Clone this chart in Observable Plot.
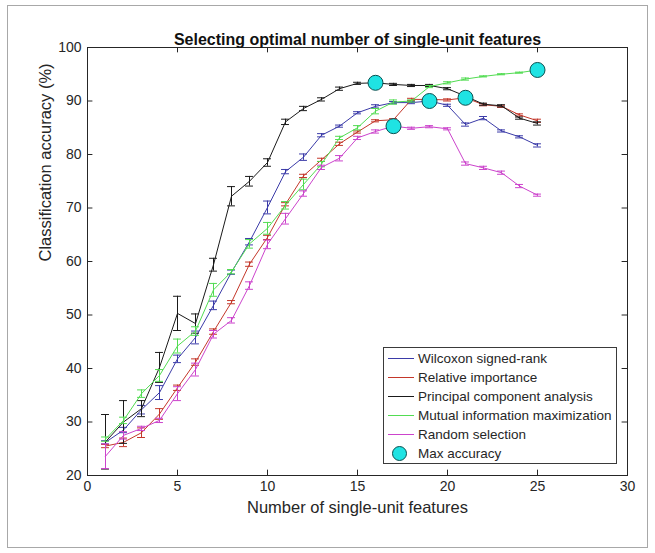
<!DOCTYPE html>
<html>
<head>
<meta charset="utf-8">
<script src="https://cdn.jsdelivr.net/npm/d3@7"></script>
<script src="https://cdn.jsdelivr.net/npm/@observablehq/plot@0.6"></script>
<style>
  body { margin: 0; background: #fff; font-family: "Liberation Sans", Arial, sans-serif; }
  #fig { position: relative; width: 655px; height: 553px; background: #fff; }
  #frame { position: absolute; left: 7px; top: 5px; width: 641px; height: 543px; border: 1px solid #a8a8a8; box-sizing: border-box; pointer-events: none; }
  #legend { position: absolute; left: 383px; top: 347px; width: 234px; height: 117px; background: #fff; border: 1px solid #3a3a3a; box-sizing: border-box; font-size: 13.5px; color: #262626; }
  .row { position: absolute; left: 0; height: 19px; line-height: 19px; white-space: nowrap; }
  .sw { position: absolute; left: 4px; top: 9px; width: 26px; height: 1px; }
  .dotsw { position: absolute; left: 8px; top: 2px; width: 15px; height: 15px; border-radius: 50%; background: #1fe3e3; border: 1px solid #0b4f4f; box-sizing: border-box; }
  .lbl { position: absolute; left: 34px; top: 0; }
</style>
</head>
<body>
<div id="fig"><div id="chart"></div><div id="legend"></div><div id="frame"></div></div>
<script>
// ---- data ----
const features = [1,2,3,4,5,6,7,8,9,10,11,12,13,14,15,16,17,18,19,20,21,22,23,24,25];

const seriesNames = ["Wilcoxon signed-rank", "Relative importance", "Principal component analysis", "Mutual information maximization", "Random selection"];
const seriesColors = ["#3b3ba8", "#c4372a", "#1a1a1a", "#52dc52", "#cc44cc"];

const wilcoxon    = [26.2,28.5,32.3,35.5,41.8,45.8,51.8,58.0,63.7,70.1,76.8,79.5,83.6,85.3,87.8,89.0,89.7,89.7,90.0,89.2,85.6,86.8,84.4,83.3,81.7];
const wilcoxonErr = [0.3,0.5,0.8,1.3,0.7,1.2,0.8,0.4,0.6,1.2,0.4,0.6,0.3,0.2,0.2,0.3,0.2,0.2,0.2,0.2,0.3,0.3,0.2,0.2,0.3];

const relImp    = [25.5,26.2,28.0,31.5,36.4,41.2,46.9,52.4,59.5,64.5,70.7,76.0,79.0,82.0,84.2,86.3,86.5,90.3,90.3,90.2,90.6,89.3,89.0,87.4,86.3];
const relImpErr = [0.3,0.8,0.9,1.0,0.5,0.6,0.5,0.3,0.4,0.4,0.3,0.3,0.3,0.3,0.2,0.2,0.2,0.2,0.2,0.2,0.2,0.2,0.2,0.2,0.3];

const pca    = [26.3,30.0,32.5,40.2,50.3,48.4,59.4,72.2,75.0,78.5,86.1,88.6,90.3,92.3,93.3,93.4,93.1,92.9,92.9,92.3,90.9,89.4,89.1,86.8,85.8];
const pcaErr = [5.1,4.0,1.5,2.8,3.2,1.8,1.2,1.8,0.9,0.7,0.5,0.4,0.3,0.3,0.2,0.2,0.2,0.2,0.2,0.2,0.2,0.2,0.2,0.2,0.3];

const mim    = [26.8,30.3,35.3,38.7,44.2,47.0,54.7,58.1,63.3,66.2,70.5,74.4,78.2,83.1,85.0,88.1,89.8,90.0,92.7,93.4,94.1,94.6,95.0,95.3,95.8];
const mimErr = [0.4,0.6,0.7,1.1,1.3,0.8,1.2,0.4,0.8,1.1,0.7,1.0,0.5,0.3,0.4,0.5,0.4,0.2,0.2,0.2,0.2,0.1,0.1,0.1,0.1];

const randomSel    = [23.6,27.5,28.8,30.3,35.3,39.8,46.4,49.0,55.5,63.2,68.0,72.7,77.6,79.3,83.1,84.3,85.3,84.9,85.2,84.8,78.3,77.5,76.6,74.1,72.4];
const randomSelErr = [2.3,0.7,0.4,0.4,1.3,1.2,0.7,0.5,0.7,0.8,1.0,0.5,0.4,0.5,0.3,0.3,0.2,0.2,0.2,0.2,0.3,0.3,0.3,0.3,0.2];

const maxX = [16, 17, 19, 21, 25];
const maxY = [93.4, 85.3, 90.0, 90.6, 95.8];

const xTicks = [0,5,10,15,20,25,30];
const yTicks = [20,30,40,50,60,70,80,90,100];

const titleText = "Selecting optimal number of single-unit features";
const xLabel = "Number of single-unit features";
const yLabel = "Classification accuracy (%)";
const maxLabel = "Max accuracy";

// ---- build ----
const values = [wilcoxon, relImp, pca, mim, randomSel];
const errs = [wilcoxonErr, relImpErr, pcaErr, mimErr, randomSelErr];
const capHalf = 0.22;

const marks = [];
values.forEach((vals, s) => {
  const rows = features.map((f, i) => ({x: f, y: vals[i], lo: vals[i] - errs[s][i], hi: vals[i] + errs[s][i]}));
  const c = seriesColors[s];
  marks.push(Plot.line(rows, {x: "x", y: "y", stroke: c, strokeWidth: 1}));
  marks.push(Plot.ruleX(rows, {x: "x", y1: "lo", y2: "hi", stroke: c, strokeWidth: 1}));
  marks.push(Plot.ruleY(rows, {y: "lo", x1: d => d.x - capHalf, x2: d => d.x + capHalf, stroke: c, strokeWidth: 1}));
  marks.push(Plot.ruleY(rows, {y: "hi", x1: d => d.x - capHalf, x2: d => d.x + capHalf, stroke: c, strokeWidth: 1}));
});
const maxRows = maxX.map((x, i) => ({x, y: maxY[i]}));
marks.push(Plot.dot(maxRows, {x: "x", y: "y", r: 7.5, fill: "#1fe3e3", stroke: "#0b4f4f", strokeWidth: 1}));

const axisColor = "#262626";
const tickLenY = 1.0;   // in y units (~5px)
const tickLenX = 0.3;   // in x units (~5px)

const chart = Plot.plot({
  width: 655,
  height: 553,
  marginLeft: 87,
  marginRight: 28,
  marginTop: 47,
  marginBottom: 78,
  style: {fontFamily: "'Liberation Sans', Arial, sans-serif", color: axisColor, background: "#fff"},
  x: {domain: [0, 30]},
  y: {domain: [20, 100]},
  marks: [
    ...marks,
    Plot.frame({stroke: axisColor, strokeWidth: 1}),
    Plot.ruleX(xTicks.slice(1, -1), {x: d => d, y1: 20, y2: 20 + tickLenY, stroke: axisColor}),
    Plot.ruleX(xTicks.slice(1, -1), {x: d => d, y1: 100 - tickLenY, y2: 100, stroke: axisColor}),
    Plot.ruleY(yTicks.slice(1, -1), {y: d => d, x1: 0, x2: tickLenX, stroke: axisColor}),
    Plot.ruleY(yTicks.slice(1, -1), {y: d => d, x1: 30 - tickLenX, x2: 30, stroke: axisColor}),
    Plot.axisX({ticks: xTicks, tickSize: 0, tickPadding: 6, fontSize: 14, label: null, tickFormat: d => String(d)}),
    Plot.axisY({ticks: yTicks, tickSize: 0, tickPadding: 6, fontSize: 14, label: null, tickFormat: d => String(d)}),
    Plot.text([xLabel], {text: d => d, frameAnchor: "bottom", dy: 37, fontSize: 16.5, fill: axisColor}),
    Plot.text([yLabel], {text: d => d, frameAnchor: "left", dx: -42, rotate: -90, fontSize: 16.5, fill: axisColor}),
    Plot.text([titleText], {text: d => d, frameAnchor: "top", dy: -14, fontSize: 16, fontWeight: "bold", fill: "#111"})
  ]
});
document.getElementById("chart").appendChild(chart);

// legend
const legend = document.getElementById("legend");
const rowTops = [1, 20, 39, 58, 77, 96];
seriesNames.forEach((n, i) => {
  const r = document.createElement("div");
  r.className = "row";
  r.style.top = rowTops[i] + "px";
  r.innerHTML = `<div class="sw" style="background:${seriesColors[i]}"></div><div class="lbl"></div>`;
  r.querySelector(".lbl").textContent = n;
  legend.appendChild(r);
});
const mr = document.createElement("div");
mr.className = "row";
mr.style.top = rowTops[5] + "px";
mr.innerHTML = `<div class="dotsw"></div><div class="lbl"></div>`;
mr.querySelector(".lbl").textContent = maxLabel;
legend.appendChild(mr);
</script>
</body>
</html>
